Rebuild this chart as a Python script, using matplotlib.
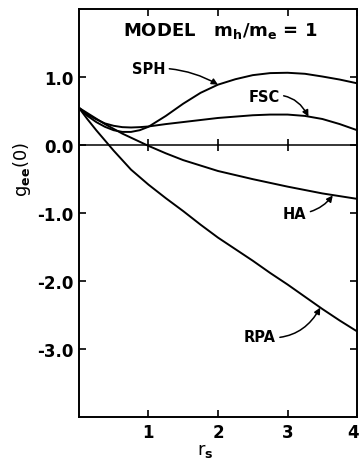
import numpy as np
import matplotlib
matplotlib.use('Agg')
import matplotlib.pyplot as plt
from matplotlib.transforms import ScaledTranslation

plt.rcParams['font.family'] = ['DejaVu Sans']
plt.rcParams['font.weight'] = 'bold'
plt.rcParams['axes.unicode_minus'] = False
plt.rcParams['mathtext.default'] = 'bf'

# r_s values and g_ee(0)
rs = [0, 0.125, 0.25, 0.375, 0.5, 0.625, 0.75, 0.875, 1.0, 1.25, 1.5,
      1.75, 2.0, 2.25, 2.5, 2.75, 3.0, 3.25, 3.5, 3.75, 4.0]
sph = [0.55, 0.43, 0.34, 0.27, 0.22, 0.195, 0.195, 0.22, 0.27, 0.43, 0.61,
       0.77, 0.89, 0.97, 1.03, 1.06, 1.065, 1.05, 1.01, 0.965, 0.91]
fsc = [0.55, 0.45, 0.38, 0.32, 0.285, 0.265, 0.26, 0.265, 0.275, 0.31, 0.34,
       0.37, 0.40, 0.42, 0.44, 0.45, 0.45, 0.43, 0.385, 0.31, 0.22]
ha = [0.55, 0.47, 0.39, 0.31, 0.24, 0.17, 0.11, 0.05, -0.01, -0.12, -0.22,
      -0.30, -0.38, -0.44, -0.50, -0.555, -0.61, -0.66, -0.71, -0.75, -0.79]
rpa = [0.55, 0.38, 0.22, 0.07, -0.08, -0.22, -0.36, -0.47, -0.58, -0.78, -0.97,
       -1.17, -1.36, -1.53, -1.70, -1.88, -2.05, -2.23, -2.41, -2.58, -2.74]

xticks = [1, 2, 3, 4]
xticklabels = ['1', '2', '3', '4']
yticks = [1.0, 0.0, -1.0, -2.0, -3.0]
yticklabels = ['1.0', '0.0', '-1.0', '-2.0', '-3.0']

fig = plt.figure(figsize=(3.6, 4.64), dpi=100)
ax = fig.add_axes([0.219, 0.099, 0.773, 0.879])

for y in (sph, fsc, ha, rpa):
    ax.plot(rs, y, color='black', lw=1.4, solid_capstyle='butt')

ax.axhline(0, color='black', lw=1.1)
ax.plot(xticks[:-1], np.zeros(3), ls='none', marker='|', ms=9, mew=1.2, color='black')

ax.set_xlim(0, 4)
ax.set_ylim(-4, 2)
ax.set_xticks(xticks)
ax.set_xticklabels(xticklabels)
ax.set_yticks(yticks)
ax.set_yticklabels(yticklabels)
ax.tick_params(direction='in', top=True, right=True, length=5, width=1.2,
               labelsize=12, pad=4)
for s in ax.spines.values():
    s.set_linewidth(1.4)

# last x label sits on the figure edge; nudge it in a little
last = ax.get_xticklabels()[-1]
last.set_transform(last.get_transform() + ScaledTranslation(-0.04, 0, fig.dpi_scale_trans))

ax.set_ylabel('g$_{ee}$(0)', fontsize=13)
ax.yaxis.set_label_coords(-0.165, 0.61)
ax.set_xlabel('r$_s$', fontsize=13)
ax.xaxis.set_label_coords(0.453, -0.058)

ax.text(0.63, 1.69, 'MODEL   m$_h$/m$_e$ = 1', fontsize=13, va='center', ha='left')

arrow = dict(arrowstyle='-|>', color='black', lw=1.1, mutation_scale=9,
             shrinkA=1, shrinkB=0)
ax.annotate('SPH', xy=(2.0, 0.89), xytext=(1.0, 1.13), fontsize=10.5,
            ha='center', va='center',
            arrowprops=dict(arrow, connectionstyle='arc3,rad=-0.15'))
ax.annotate('FSC', xy=(3.3, 0.42), xytext=(2.66, 0.71), fontsize=10.5,
            ha='center', va='center',
            arrowprops=dict(arrow, connectionstyle='arc3,rad=-0.4'))
ax.annotate('HA', xy=(3.65, -0.74), xytext=(3.1, -1.01), fontsize=10.5,
            ha='center', va='center',
            arrowprops=dict(arrow, connectionstyle='arc3,rad=0.25'))
ax.annotate('RPA', xy=(3.47, -2.39), xytext=(2.6, -2.82), fontsize=10.5,
            ha='center', va='center',
            arrowprops=dict(arrow, connectionstyle='arc3,rad=0.35'))

fig.savefig('out.png', dpi=100)
